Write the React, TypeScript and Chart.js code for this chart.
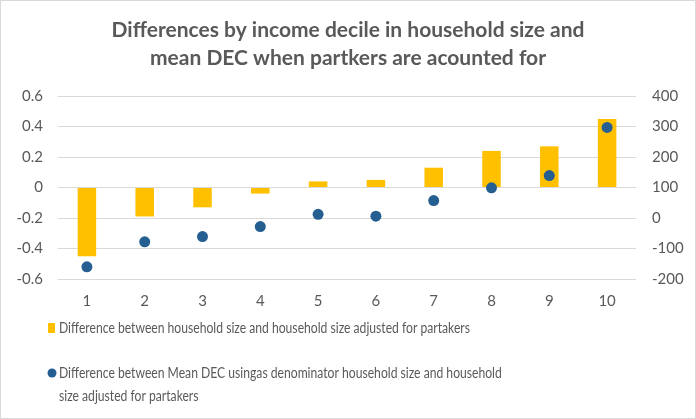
import React, { useEffect, useRef } from "react";
import { Chart, registerables } from "chart.js";

Chart.register(...registerables);

const deciles = ["1", "2", "3", "4", "5", "6", "7", "8", "9", "10"];
const sizeDiff = [-0.45, -0.19, -0.13, -0.04, 0.04, 0.05, 0.13, 0.24, 0.27, 0.45];
const decDiff = [-160, -78, -61, -28, 12, 6, 57, 99, 139, 297];
const titleLines = [
  "Differences by income decile in household size and",
  "mean DEC when partkers are acounted for",
];
const legendBarLabel = "Difference between household size and household size adjusted for partakers";
const legendDotLines = [
  "Difference between Mean DEC usingas denominator household size and household",
  "size adjusted for partakers",
];

const BAR_COLOR = "#FFC000";
const DOT_COLOR = "#255E91";
const TEXT_COLOR = "#595959";
const FONT = "Lato, 'Open Sans', sans-serif";

const legendPlugin = {
  id: "customLegend",
  afterDraw(chart: any) {
    const ctx = chart.ctx as CanvasRenderingContext2D;
    ctx.save();
    ctx.strokeStyle = "#d9d9d9";
    ctx.lineWidth = 1;
    ctx.strokeRect(0.5, 0.5, chart.width - 1, chart.height - 1);
    ctx.font = `14.5px ${FONT}`;
    ctx.fillStyle = TEXT_COLOR;
    ctx.textBaseline = "middle";
    ctx.textAlign = "left";
    const factor = 411 / ctx.measureText(legendBarLabel).width;
    const draw = (t: string, y: number) =>
      ctx.fillText(t, 59, y, ctx.measureText(t).width * factor);
    draw(legendBarLabel, 328);
    draw(legendDotLines[0], 373);
    draw(legendDotLines[1], 396);
    ctx.fillStyle = BAR_COLOR;
    ctx.fillRect(48, 323, 7, 10);
    ctx.fillStyle = DOT_COLOR;
    ctx.beginPath();
    ctx.arc(52, 373, 4.5, 0, Math.PI * 2);
    ctx.fill();
    ctx.restore();
  },
};

export default function App() {
  const ref = useRef<HTMLCanvasElement | null>(null);
  useEffect(() => {
    document.body.style.margin = "0";
    const canvas = ref.current;
    if (!canvas) return;
    const chart = new Chart(canvas, {
      type: "bar",
      data: {
        labels: deciles,
        datasets: [
          {
            type: "line",
            label: legendDotLines.join(" "),
            data: decDiff,
            yAxisID: "y1",
            showLine: false,
            pointRadius: 5.5,
            pointBackgroundColor: DOT_COLOR,
            pointBorderColor: DOT_COLOR,
            pointBorderWidth: 0,
            backgroundColor: DOT_COLOR,
            borderColor: DOT_COLOR,
          } as any,
          {
            type: "bar",
            label: legendBarLabel,
            data: sizeDiff,
            yAxisID: "y",
            backgroundColor: BAR_COLOR,
            categoryPercentage: 1,
            barPercentage: 0.32,
          },
        ],
      },
      options: {
        responsive: false,
        animation: false,
        layout: { padding: { top: 0, bottom: 110, left: 0, right: 0 } },
        plugins: {
          legend: { display: false },
          tooltip: { enabled: false },
          title: {
            display: true,
            text: titleLines,
            color: TEXT_COLOR,
            font: { family: FONT, size: 21, weight: "bold", lineHeight: 28 / 21 },
            padding: { top: 16, bottom: 24 },
          },
        },
        scales: {
          x: {
            grid: { display: false, drawTicks: false },
            border: { display: false },
            ticks: { color: TEXT_COLOR, font: { family: FONT, size: 15 }, padding: 13 },
            afterFit: (s: any) => { s.height = 30; },
          },
          y: {
            position: "left",
            min: -0.6,
            max: 0.6,
            grid: { color: "#d9d9d9", drawTicks: false },
            border: { display: false },
            ticks: {
              stepSize: 0.2,
              color: TEXT_COLOR,
              font: { family: FONT, size: 15 },
              padding: 15,
              callback: (v: any) => {
                const n = Math.round(Number(v) * 10) / 10;
                return n === 0 ? "0" : String(n);
              },
            },
            afterFit: (s: any) => { s.width = 58; },
          },
          y1: {
            position: "right",
            min: -200,
            max: 400,
            grid: { display: false, drawTicks: false },
            border: { display: false },
            ticks: { stepSize: 100, color: TEXT_COLOR, font: { family: FONT, size: 15 }, padding: 16 },
            afterFit: (s: any) => { s.width = 60; },
          },
        },
      },
      plugins: [legendPlugin],
    });
    return () => chart.destroy();
  }, []);
  return (
    <div style={{ width: 696, height: 419 }}>
      <canvas ref={ref} width={696} height={419} style={{ display: "block", width: 696, height: 419 }} />
    </div>
  );
}
